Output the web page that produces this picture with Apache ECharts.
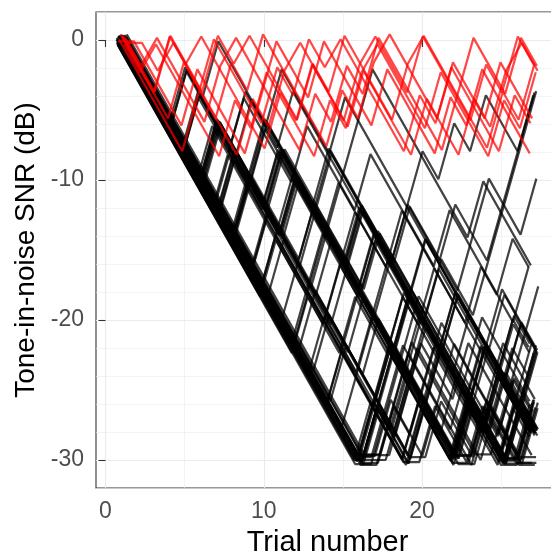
<!DOCTYPE html>
<html>
<head>
<meta charset="utf-8">
<script src="https://cdn.jsdelivr.net/npm/echarts@6/dist/echarts.min.js"></script>
<style>html,body{margin:0;padding:0;background:#fff}#c{width:551px;height:556px}</style>
</head>
<body>
<div id="c"></div>
<script>
// ---- data ----
const trials = [1,2,3,4,5,6,7,8,9,10,11,12,13,14,15,16,17,18,19,20,21,22,23,24,25,26,27];
const xTickValues = [0,10,20];
const xMinorValues = [5,15,25];
const yTickValues = [-30,-20,-10,0];

// tracks that fall straight to the -30 dB floor
const blackFloorTracks = [
  [0,-2,-4,-6,-8,-10,-12,-14,-16,-18,-20,-22,-24,-26,-28,-30,-26,-22,-24,-26,-28,-30,-26,-22,-18,-20,-22],
  [0,-2,-4,-6,-8,-10,-12,-14,-16,-18,-20,-22,-24,-26,-28,-30,-30,-26,-22,-18,-20,-22,-24,-26,-28,-24,-26],
  [0,-2,-4,-6,-8,-10,-12,-14,-16,-18,-20,-22,-24,-26,-28,-30,-26,-22,-24,-26,-28,-30,-26,-28,-30,-30,-26],
  [0,-2,-4,-6,-8,-10,-12,-14,-16,-18,-20,-22,-24,-26,-28,-30,-30,-30,-26,-22,-24,-26,-22,-24,-26,-28,-30],
  [0,-2,-4,-6,-8,-10,-12,-14,-16,-18,-20,-22,-24,-26,-28,-30,-26,-28,-24,-20,-22,-24,-26,-28,-30,-26,-22],
  [0,-2,-4,-6,-8,-10,-12,-14,-16,-18,-20,-22,-24,-26,-28,-30,-26,-28,-30,-26,-22,-24,-26,-28,-24,-20,-22],
  [0,-2,-4,-6,-8,-10,-12,-14,-16,-18,-20,-22,-24,-26,-28,-30,-30,-26,-22,-24,-26,-28,-30,-26,-28,-30,-30],
  [0,-2,-4,-6,-8,-10,-12,-14,-16,-18,-20,-22,-24,-26,-28,-30,-26,-22,-18,-20,-22,-24,-26,-28,-30,-26,-28],
  [0,-2,-4,-6,-8,-10,-12,-14,-16,-18,-20,-22,-24,-26,-28,-30,-26,-22,-18,-20,-22,-24,-26,-28,-24,-26,-28],
  [0,-2,-4,-6,-8,-10,-12,-14,-16,-18,-20,-22,-24,-26,-28,-30,-30,-26,-28,-30,-26,-22,-24,-26,-28,-30,-26],
  [0,-2,-4,-6,-8,-10,-12,-14,-16,-18,-20,-22,-24,-26,-28,-30,-30,-26,-28,-24,-20,-22,-24,-26,-28,-30,-30],
  [0,-2,-4,-6,-8,-10,-12,-14,-16,-18,-20,-22,-24,-26,-28,-30,-26,-28,-24,-20,-22,-24,-26,-28,-30,-26,-28],
  [0,-2,-4,-6,-8,-10,-12,-14,-16,-18,-20,-22,-24,-26,-28,-30,-30,-30,-26,-22,-24,-26,-28,-30,-26,-22,-24],
  [0,-2,-4,-6,-8,-10,-12,-14,-16,-18,-20,-22,-24,-26,-28,-30,-26,-28,-30,-26,-22,-24,-26,-28,-30,-30,-26],
  [0,-2,-4,-6,-8,-10,-12,-14,-16,-18,-20,-22,-24,-26,-28,-30,-30,-26,-22,-24,-26,-28,-30,-30,-26,-22,-18],
  [0,-2,-4,-6,-8,-10,-12,-14,-16,-18,-20,-22,-24,-26,-28,-30,-26,-22,-24,-26,-28,-30,-26,-28,-24,-26,-28]
];
// tracks with one early reversal
const blackShift1Tracks = [
  [0,-2,-4,-6,-8,-10,-12,-14,-10,-12,-14,-16,-18,-20,-22,-24,-26,-28,-30,-26,-28,-30,-30,-26,-28,-30,-26],
  [0,-2,-4,-6,-8,-10,-12,-8,-10,-12,-14,-16,-18,-20,-22,-24,-26,-28,-30,-30,-26,-28,-30,-26,-28,-24,-26],
  [0,-2,-4,-6,-8,-10,-12,-14,-16,-18,-20,-22,-18,-20,-22,-24,-26,-28,-30,-26,-22,-24,-26,-28,-30,-26,-28],
  [0,-2,-4,-6,-8,-10,-6,-8,-10,-12,-14,-16,-18,-20,-22,-24,-26,-28,-30,-26,-28,-30,-26,-28,-30,-30,-26],
  [0,-2,-4,-6,-8,-10,-12,-14,-16,-18,-20,-22,-24,-26,-22,-24,-26,-28,-30,-30,-26,-28,-30,-26,-28,-30,-30],
  [0,-2,-4,-6,-8,-10,-12,-14,-16,-18,-14,-16,-18,-20,-22,-24,-26,-28,-30,-26,-28,-30,-26,-22,-24,-26,-28],
  [0,-2,-4,-6,-2,-4,-6,-8,-10,-12,-14,-16,-18,-20,-22,-24,-26,-28,-30,-26,-28,-24,-26,-28,-30,-26,-28]
];
// tracks with two reversals
const blackShift2Tracks = [
  [0,-2,-4,-6,-8,-4,-6,-8,-10,-12,-8,-10,-12,-14,-16,-18,-20,-22,-24,-26,-28,-30,-26,-28,-30,-26,-28],
  [0,-2,-4,-6,-8,-10,-12,-14,-16,-12,-14,-16,-18,-20,-22,-18,-20,-22,-24,-26,-28,-30,-30,-26,-28,-30,-26],
  [0,-2,-4,-6,-8,-10,-6,-8,-10,-6,-8,-10,-12,-14,-16,-18,-20,-22,-24,-26,-28,-30,-26,-22,-24,-26,-28],
  [0,-2,-4,-6,-8,-10,-12,-14,-16,-18,-20,-22,-18,-20,-16,-18,-20,-22,-24,-26,-28,-30,-26,-28,-30,-30,-26],
  [0,-2,-4,-6,-8,-10,-12,-8,-10,-12,-14,-10,-12,-14,-16,-18,-20,-22,-24,-26,-28,-30,-26,-28,-24,-26,-28],
  [0,-2,-4,-6,-8,-10,-12,-14,-16,-18,-20,-22,-24,-26,-22,-24,-26,-22,-24,-26,-28,-30,-30,-26,-28,-30,-30],
  [0,-2,-4,-6,-8,-10,-6,-8,-10,-12,-14,-16,-18,-20,-22,-24,-20,-22,-24,-26,-28,-30,-26,-28,-30,-26,-28]
];
// tracks with three or more reversals
const blackShift3Tracks = [
  [0,-2,-4,-6,-2,-4,0,-2,-4,-6,-2,-4,-6,-8,-4,-6,-8,-10,-12,-14,-16,-18,-20,-22,-24,-26,-28],
  [0,-2,-4,-6,-8,-4,-6,-8,-4,-6,-8,-4,-6,-8,-10,-12,-14,-16,-18,-20,-22,-24,-26,-28,-30,-26,-28],
  [0,-2,-4,-6,-8,-10,-12,-14,-16,-12,-14,-16,-18,-14,-16,-18,-20,-22,-18,-20,-22,-24,-26,-28,-30,-26,-28],
  [0,-2,-4,-6,-8,-10,-6,-8,-10,-12,-14,-10,-12,-14,-16,-18,-14,-16,-18,-20,-22,-24,-26,-28,-30,-30,-26],
  [0,-2,-4,-6,-8,-10,-6,-8,-10,-12,-8,-10,-12,-14,-16,-12,-14,-16,-18,-20,-22,-24,-26,-28,-30,-26,-22],
  [0,-2,-4,-6,-8,-10,-12,-14,-16,-18,-20,-22,-18,-20,-22,-18,-20,-22,-18,-20,-22,-24,-26,-28,-30,-26,-28],
  [0,-2,-4,-6,-8,-10,-12,-14,-10,-12,-8,-10,-12,-14,-16,-18,-20,-22,-24,-26,-22,-24,-26,-28,-30,-30,-26]
];
// tracks wandering through the middle levels
const blackMiddleTracks = [
  [0,-2,-4,-6,-8,-4,-6,-8,-10,-12,-14,-10,-12,-14,-16,-18,-20,-16,-18,-20,-22,-24,-26,-22,-24,-26,-28],
  [0,-2,-4,-6,-8,-10,-12,-8,-4,-6,-8,-10,-12,-14,-16,-18,-20,-22,-18,-14,-16,-18,-20,-22,-24,-26,-22],
  [0,-2,-4,-6,-8,-10,-12,-14,-16,-18,-14,-10,-12,-14,-16,-18,-20,-22,-24,-20,-22,-24,-26,-28,-24,-20,-22],
  [0,-2,-4,-6,-8,-10,-12,-14,-10,-12,-8,-10,-12,-14,-16,-12,-14,-16,-18,-20,-22,-18,-20,-22,-24,-26,-28],
  [0,-2,-4,-6,-8,-10,-12,-14,-16,-12,-8,-10,-12,-14,-16,-18,-14,-16,-18,-20,-22,-24,-26,-28,-24,-26,-28],
  [0,-2,-4,-6,-8,-10,-12,-14,-16,-18,-14,-16,-18,-20,-16,-12,-14,-16,-18,-20,-16,-18,-20,-22,-24,-20,-22],
  [0,-2,-4,-6,-8,-10,-12,-14,-16,-18,-20,-16,-12,-14,-16,-18,-20,-22,-24,-26,-22,-18,-20,-22,-24,-26,-28],
  [0,-2,-4,-6,-8,-10,-12,-14,-10,-12,-14,-16,-18,-14,-16,-18,-14,-16,-18,-20,-22,-24,-20,-22,-24,-26,-28],
  [0,-2,-4,-6,-8,-10,-6,-8,-10,-12,-14,-16,-12,-8,-10,-12,-14,-16,-18,-20,-22,-18,-20,-22,-24,-20,-22],
  [0,-2,-4,-6,-8,-10,-12,-14,-16,-18,-20,-22,-24,-20,-22,-24,-20,-16,-18,-20,-22,-24,-26,-28,-24,-26,-28],
  [0,-2,-4,-6,-8,-10,-12,-8,-10,-6,-8,-10,-12,-14,-16,-18,-14,-16,-18,-20,-16,-18,-20,-22,-24,-26,-22],
  [0,-2,-4,-6,-8,-10,-12,-14,-16,-18,-20,-22,-18,-14,-16,-18,-20,-22,-24,-26,-28,-30,-26,-22,-24,-26,-28],
  [0,-2,-4,-6,-8,-10,-12,-8,-10,-12,-14,-10,-12,-14,-16,-12,-14,-16,-18,-14,-16,-18,-20,-22,-18,-20,-22],
  [0,-2,-4,-6,-8,-10,-12,-14,-16,-18,-20,-22,-24,-26,-28,-24,-20,-22,-24,-26,-28,-30,-26,-28,-30,-26,-22],
  [0,-2,-4,-6,-8,-10,-12,-14,-16,-18,-20,-22,-24,-26,-28,-30,-26,-22,-18,-20,-22,-24,-26,-22,-24,-26,-28],
  [0,-2,-4,-6,-8,-10,-12,-14,-16,-18,-20,-22,-24,-26,-28,-30,-30,-26,-22,-24,-26,-28,-24,-20,-22,-24,-26],
  [0,-2,-4,-6,-8,-10,-12,-14,-16,-18,-20,-22,-24,-26,-28,-30,-26,-28,-24,-20,-22,-24,-26,-28,-30,-26,-22],
  [0,-2,-4,-6,-8,-10,-12,-14,-16,-18,-20,-22,-24,-26,-22,-18,-20,-22,-24,-26,-28,-30,-26,-22,-24,-26,-28],
  [0,-2,-4,-6,-8,-10,-12,-14,-16,-18,-20,-22,-24,-20,-22,-24,-26,-28,-24,-26,-28,-30,-30,-26,-22,-24,-26],
  [0,-2,-4,-6,-8,-10,-6,-8,-4,-6,-8,-10,-6,-8,-10,-12,-8,-10,-12,-14,-16,-12,-14,-16,-18,-20,-16],
  [0,-2,-4,-6,-8,-10,-12,-14,-10,-6,-8,-10,-12,-8,-10,-12,-14,-16,-12,-14,-16,-18,-14,-10,-12,-14,-10]
];
// tracks that stay high
const blackUpperTracks = [
  [0,-2,-4,-6,-8,-10,-6,-8,-10,-6,-8,-10,-12,-8,-10,-12,-14,-16,-12,-14,-16,-12,-14,-16,-12,-8,-4],
  [0,-2,-4,-6,-8,-4,-6,-8,-10,-12,-8,-10,-12,-14,-10,-6,-2,-4,-6,-8,-10,-12,-14,-10,-12,-14,-16],
  [0,-2,-4,-6,-8,-10,-12,-14,-10,-12,-14,-16,-12,-14,-16,-18,-14,-16,-18,-20,-16,-18,-20,-16,-12,-8,-4],
  [0,-2,-4,-6,-8,-10,-12,-8,-10,-12,-14,-16,-18,-14,-10,-12,-14,-16,-12,-14,-16,-18,-20,-16,-18,-14,-16],
  [0,-2,-4,-6,-2,-4,-6,-8,-10,-12,-14,-10,-12,-14,-16,-12,-14,-16,-12,-8,-10,-6,-8,-4,-6,-8,-4],
  [0,-2,-4,-6,-8,-10,-12,-14,-16,-18,-14,-16,-18,-20,-16,-12,-14,-16,-18,-20,-22,-18,-20,-22,-24,-20,-22]
];
// red tracks (near 0 dB)
const redTracks = [
  [0,-2,-4,0,-2,-4,0,-2,0,-2,-4,-6,-2,-4,0,-2,-4,-6,-2,0,-2,-4,-6,-8,-4,-6,-2],
  [0,0,-2,-4,-6,-2,-4,-6,-8,-4,0,-2,-4,0,-2,-4,-6,-2,-4,-6,-8,-4,-6,-2,-4,-6,-8],
  [0,-2,0,-2,-4,-6,-2,0,-2,-4,-6,-8,-4,-6,-2,-4,0,-2,-4,-6,-8,-4,0,-2,-4,0,-2],
  [0,-2,-4,-6,-2,-4,-6,-2,-4,0,-2,-4,-6,-8,-4,-6,-2,0,-2,-4,-6,-2,-4,-6,-2,-4,-6],
  [0,0,-2,0,-2,-4,-6,-8,-4,-6,-2,0,-2,-4,-6,-2,-4,-6,-8,-4,-6,-8,-4,-6,-2,0,-2],
  [0,-2,-4,-6,-8,-4,0,-2,-4,-6,-2,-4,0,-2,0,-2,-4,-6,-8,-4,-6,-2,-4,-6,-8,-4,-6],
  [0,-2,-4,0,-2,0,-2,-4,-6,-8,-4,-6,-2,-4,-6,-2,0,-2,-4,0,-2,-4,-6,-2,-4,0,-2],
  [0,-2,0,-2,-4,-6,-8,-4,-6,-2,-4,-6,-8,-4,-6,-2,0,-2,-4,-6,-2,-4,-6,-8,-4,-6,-2]
];
// per-track jitter (trial, dB)
const blackJitterX = [0.05,-0.22,0.31,-0.08,0.18,-0.27,0.12,0.27,-0.15,0.02,0.22,-0.05,-0.3,0.15,0.34,-0.12,
  0.08,-0.18,0.26,-0.02,0.2,-0.25,0.11,
  -0.1,0.3,0.04,-0.2,0.16,-0.07,0.24,
  0.13,-0.16,0.28,-0.04,0.19,-0.23,0.07,
  -0.06,0.23,-0.19,0.09,0.32,-0.24,0.14,-0.01,0.27,-0.17,0.06,-0.29,0.2,-0.09,0.17,-0.21,0.29,-0.03,0.12,-0.26,0.22,
  0.1,-0.13,0.21,-0.28,0.03,0.25];
const blackJitterY = [0.2,-0.3,0.1,0.35,-0.15,0.05,-0.35,0.25,-0.05,0.3,-0.2,0.15,0,-0.25,0.4,-0.1,
  0.3,-0.15,0.1,-0.35,0.2,0.05,-0.25,
  0.15,-0.3,0.35,-0.05,0.25,-0.2,0.1,
  -0.1,0.3,-0.25,0.05,0.2,-0.35,0.15,
  0.1,-0.25,0.3,-0.05,0.2,-0.3,0.05,0.35,-0.15,0.25,-0.35,0.15,-0.2,0.3,-0.1,0.2,-0.3,0.05,0.35,-0.15,0.1,
  0.25,-0.1,0.35,-0.2,0.05,-0.3];
const redJitterX = [0.1,-0.2,0.25,-0.05,0.3,-0.15,0.05,0.18];
const redJitterY = [0.3,-0.1,0.15,0.4,-0.2,0.05,0.25,-0.3];

// ---- chart ----
const blackTracks = [].concat(blackFloorTracks, blackShift1Tracks, blackShift2Tracks, blackShift3Tracks, blackMiddleTracks, blackUpperTracks);
function toPoints(ys, dx, dy) { return ys.map((y, i) => [trials[i] + dx, y + dy]); }

const series = [];
blackTracks.forEach((ys, i) => {
  series.push({
    type: 'line', data: toPoints(ys, blackJitterX[i], blackJitterY[i]),
    showSymbol: false, silent: true, animation: false,
    lineStyle: { color: 'rgba(0,0,0,0.74)', width: 2.2 }
  });
});
redTracks.forEach((ys, i) => {
  series.push({
    type: 'line', data: toPoints(ys, redJitterX[i], redJitterY[i]),
    showSymbol: false, silent: true, animation: false,
    lineStyle: { color: 'rgba(255,0,0,0.72)', width: 2.2 }
  });
});

const FONT = 'Liberation Sans, Arial, sans-serif';
const chart = echarts.init(document.getElementById('c'), null, { renderer: 'canvas' });
chart.setOption({
  animation: false,
  backgroundColor: '#ffffff',
  grid: { left: 96, top: 12, right: -8, bottom: 68, containLabel: false, outerBoundsMode: 'none',
          show: true, borderColor: '#333333', borderWidth: 1.1, backgroundColor: 'transparent' },
  xAxis: [
    {
      type: 'value', min: -0.6, max: 28.65,
      axisLine: { show: false },
      axisTick: { show: true, customValues: xTickValues, length: 7, lineStyle: { color: '#333333', width: 1.1 } },
      axisLabel: { customValues: xTickValues, fontSize: 23, color: '#4D4D4D', fontFamily: FONT, margin: 12 },
      splitLine: { show: true, lineStyle: { color: '#EBEBEB', width: 1.1 } },
      name: 'Trial number', nameLocation: 'middle', nameGap: 40,
      nameTextStyle: { fontSize: 29, color: '#000', fontFamily: FONT }
    },
    {
      type: 'value', min: -0.6, max: 28.65, position: 'bottom',
      axisLine: { show: false },
      axisTick: { show: false, customValues: xMinorValues },
      axisLabel: { show: false, customValues: xMinorValues },
      splitLine: { show: true, lineStyle: { color: '#EBEBEB', width: 0.6 } }
    }
  ],
  yAxis: [
    {
      type: 'value', min: -32, max: 2,
      axisLine: { show: false },
      axisTick: { show: true, customValues: yTickValues, length: 7, lineStyle: { color: '#333333', width: 1.1 } },
      axisLabel: { customValues: yTickValues, fontSize: 23, color: '#4D4D4D', fontFamily: FONT, margin: 12 },
      splitLine: { show: true, lineStyle: { color: '#EBEBEB', width: 1.1 } },
      name: 'Tone-in-noise SNR (dB)', nameLocation: 'middle', nameGap: 53, nameRotate: 90,
      nameTextStyle: { fontSize: 28, color: '#000', fontFamily: FONT }
    },
    {
      type: 'value', min: -32, max: 2, interval: 2,
      axisLine: { show: false }, axisTick: { show: false }, axisLabel: { show: false },
      splitLine: { show: true, lineStyle: { color: '#EBEBEB', width: 0.6 } }
    }
  ],
  series: series
});
</script>
</body>
</html>
